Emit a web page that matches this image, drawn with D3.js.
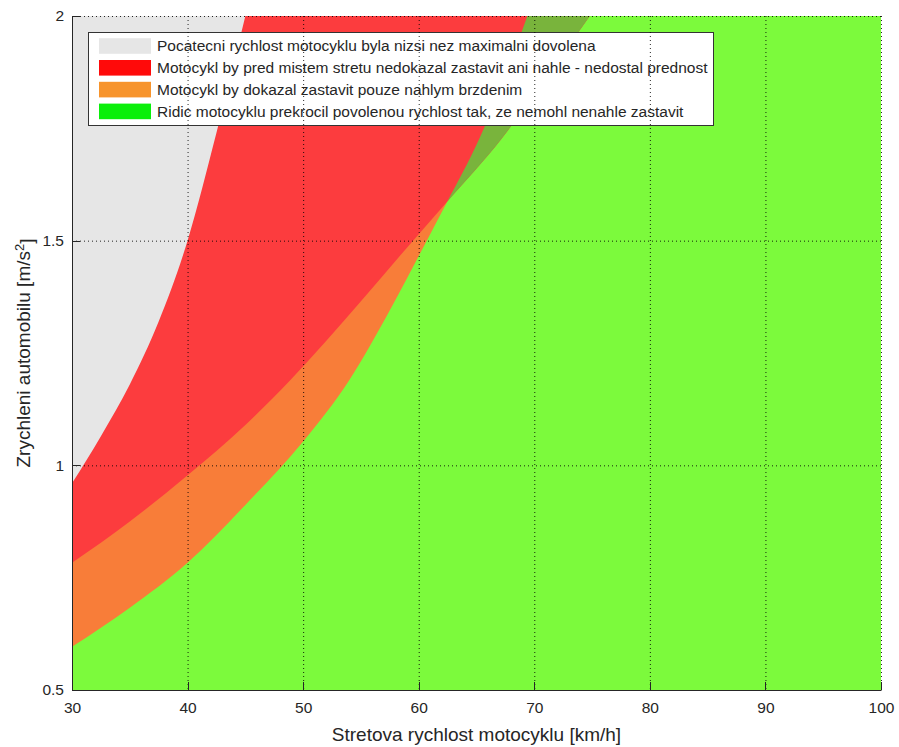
<!DOCTYPE html>
<html>
<head>
<meta charset="utf-8">
<title>Zrychleni automobilu</title>
<style>
body { margin: 0; background: #fff; }
text {
    font-family: "Liberation Sans", Arial, sans-serif;
    fill: #262626;
}
.grid line {
    stroke: #000;
    stroke-width: 1;
    stroke-dasharray: 1,3;
    stroke-opacity: 0.85;
}
.axis line {
    stroke: #262626;
    shape-rendering: crispEdges;
}
</style>
</head>
<body>
<div id="chart"></div>
<script src="https://cdn.jsdelivr.net/npm/d3@7"></script>
<script>
    // tick values
    var xTicks = [30, 40, 50, 60, 70, 80, 90, 100];
    var yTicks = [0.5, 1, 1.5, 2];

    // boundaries: [speed km/h, acceleration m/s2]
    var grayEdge = [[30, 0.96], [32.5, 1.065], [35, 1.18], [37.5, 1.32], [40, 1.50],
                    [42.5, 1.74], [45, 2.0]];
    var redEdge = [[30, 0.783], [35, 0.875], [40, 0.978], [45, 1.09], [48.9, 1.19],
                   [55, 1.365], [59, 1.485], [62.4, 1.585], [67.2, 1.728],
                   [71, 1.862], [74.8, 2.0]];
    var greenEdge = [[30, 0.596], [35, 0.683], [40, 0.783], [45, 0.912], [50, 1.053],
                     [54, 1.19], [57.5, 1.345], [60.8, 1.505], [62.4, 1.583],
                     [65.3, 1.73], [67.4, 1.86], [69.4, 2.0]];

    var legendLabels = [
        "Pocatecni rychlost motocyklu byla nizsi nez maximalni dovolena",
        "Motocykl by pred mistem stretu nedokazal zastavit ani nahle - nedostal prednost",
        "Motocykl by dokazal zastavit pouze nahlym brzdenim",
        "Ridic motocyklu prekrocil povolenou rychlost tak, ze nemohl nenahle zastavit"
    ];
    var legendColors = ["#e6e6e6", "#ff0a0a", "#f7942c", "#0aef0a"];
    var fill = { gray: "#e6e6e6", red: "#fc3c3e", orange: "#f87d39", green: "#7cfa3c", olive: "#79b43c" };

    var dimensions = { width: 899, height: 747 };
    var margins = { top: 16, right: 18, bottom: 57, left: 72 };
    var w = dimensions.width - margins.left - margins.right;
    var h = dimensions.height - margins.top - margins.bottom;

    var x = d3.scaleLinear().domain([30, 100]).range([0, w]);
    var y = d3.scaleLinear().domain([0.5, 2]).range([h, 0]);

    var svg = d3.select("#chart").append("svg")
        .attr("width", dimensions.width)
        .attr("height", dimensions.height);
    var g = svg.append("g")
        .attr("transform", "translate(" + margins.left + "," + margins.top + ")");

    var edgeLine = d3.line()
        .x(function(d) { return x(d[0]); })
        .y(function(d) { return y(d[1]); })
        .curve(d3.curveMonotoneX);

    function pt(d) { return x(d[0]) + "," + y(d[1]); }
    // region left/above of a boundary
    function leftOf(edge) {
        return edgeLine(edge) + "L" + pt([30, 2]) + "Z";
    }
    // region right/below of a boundary
    function rightOf(edge) {
        return edgeLine(edge) + "L" + pt([100, 2]) + "L" + pt([100, 0.5]) + "L" + pt([30, 0.5]) + "Z";
    }

    g.append("rect")
        .attr("width", w).attr("height", h)
        .attr("fill", fill.green);
    g.append("path").attr("d", leftOf(greenEdge)).attr("fill", fill.orange);
    g.append("path").attr("d", leftOf(redEdge)).attr("fill", fill.red);

    g.append("clipPath").attr("id", "greenclip")
        .append("path").attr("d", rightOf(greenEdge));
    g.append("path").attr("d", leftOf(redEdge))
        .attr("fill", fill.olive)
        .attr("clip-path", "url(#greenclip)");
    g.append("path").attr("d", leftOf(grayEdge)).attr("fill", fill.gray);

    // legend
    var lg = svg.append("g").attr("class", "legend");
    lg.append("rect")
        .attr("x", 88.5).attr("y", 32.5)
        .attr("width", 625).attr("height", 93)
        .attr("fill", "#fff")
        .attr("stroke", "#333")
        .attr("stroke-width", 1);
    legendLabels.forEach(function(lbl, i) {
        var cy = 46 + i * 21.8;
        lg.append("rect")
            .attr("x", 99).attr("y", cy - 7.8)
            .attr("width", 52).attr("height", 15.6)
            .attr("fill", legendColors[i]);
        lg.append("text")
            .attr("x", 157).attr("y", cy)
            .attr("dy", "0.35em")
            .style("font-size", "15.5px")
            .text(lbl);
    });

    // dotted grid, drawn on top as in the original
    var grid = svg.append("g").attr("class", "grid")
        .attr("transform", "translate(" + margins.left + "," + margins.top + ")");
    grid.selectAll("line.v").data(xTicks).enter().append("line")
        .attr("x1", function(d) { return x(d) + 0.5; })
        .attr("x2", function(d) { return x(d) + 0.5; })
        .attr("y1", 0).attr("y2", h);
    grid.selectAll("line.h").data(yTicks).enter().append("line")
        .attr("y1", function(d) { return y(d) + 0.5; })
        .attr("y2", function(d) { return y(d) + 0.5; })
        .attr("x1", 0).attr("x2", w);

    var xaxis = d3.axisBottom(x).tickValues(xTicks).tickSize(-8).tickPadding(12)
        .tickFormat(d3.format("d"));
    var yaxis = d3.axisLeft(y).tickValues(yTicks).tickSize(-8).tickPadding(8)
        .tickFormat(function(d) { return String(d); });

    var gx = svg.append("g").attr("class", "axis")
        .attr("transform", "translate(" + margins.left + "," + (margins.top + h) + ")")
        .call(xaxis);
    var gy = svg.append("g").attr("class", "axis")
        .attr("transform", "translate(" + margins.left + "," + margins.top + ")")
        .call(yaxis);
    [gx, gy].forEach(function(a) {
        a.select(".domain").attr("stroke", "#262626");
        a.selectAll("text")
            .style("font-size", "15.5px")
            .style("font-family", "'Liberation Sans', Arial, sans-serif")
            .attr("fill", "#262626");
    });
    // MATLAB style: no outer tick stubs
    gx.select(".domain").attr("d", "M0.5,0.5H" + (w + 0.5));
    gy.select(".domain").attr("d", "M0.5,0.5V" + (h + 0.5));

    svg.append("text")
        .attr("x", margins.left + w / 2)
        .attr("y", 741)
        .attr("text-anchor", "middle")
        .style("font-size", "19px")
        .text("Stretova rychlost motocyklu [km/h]");

    var yl = svg.append("text")
        .attr("transform", "translate(30," + (margins.top + h / 2) + ") rotate(-90)")
        .attr("text-anchor", "middle")
        .style("font-size", "19px");
    yl.append("tspan").text("Zrychleni automobilu [m/s");
    yl.append("tspan").attr("dy", "-0.45em").style("font-size", "13px").text("2");
    yl.append("tspan").attr("dy", "0.45em").text("]");
</script>
</body>
</html>
